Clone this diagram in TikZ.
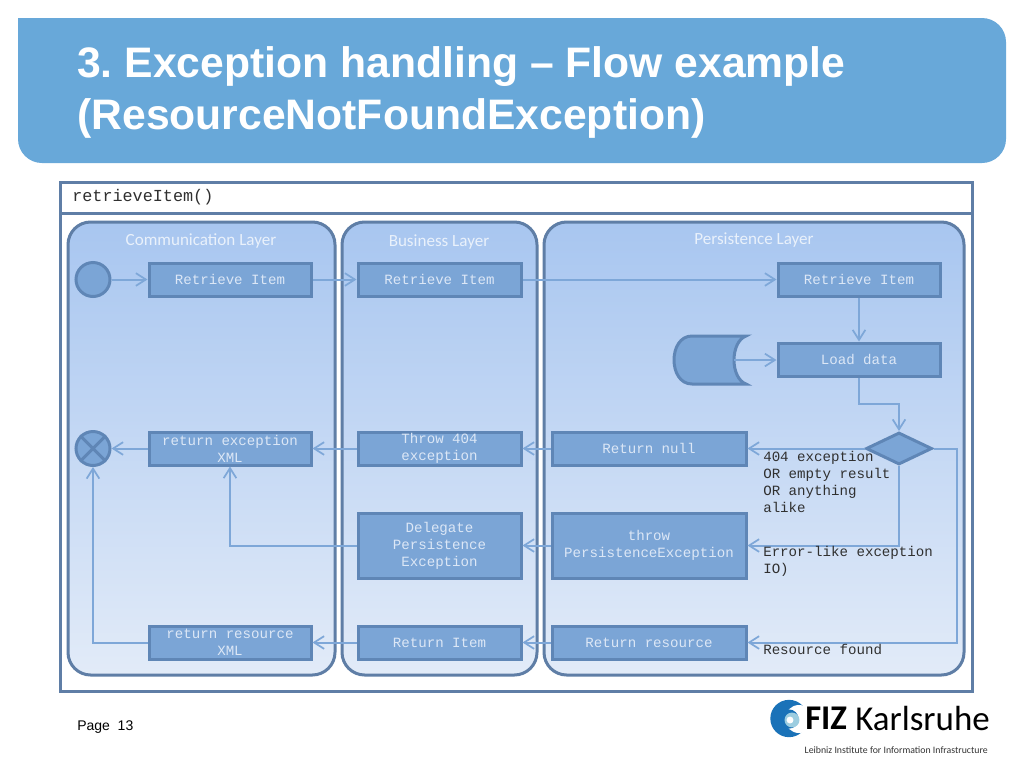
\documentclass[tikz,border=0pt]{standalone}
\usepackage{fontspec}
\setmainfont{Liberation Sans}
\setmonofont{Liberation Mono}
\newfontfamily\cali{Carlito}
\usetikzlibrary{arrows.meta,shapes.geometric}
\definecolor{hdr}{HTML}{68A8D9}
\definecolor{frm}{HTML}{5F7EA6}
\definecolor{boxf}{HTML}{7BA5D6}
\definecolor{boxd}{HTML}{5F86B6}
\definecolor{conn}{HTML}{7EA7D8}
\definecolor{paneltop}{HTML}{A8C6F0}
\definecolor{panelbot}{HTML}{E2EBF8}
\definecolor{boxtxt}{HTML}{DCE7F6}
\definecolor{lbl}{HTML}{E9F1FB}
\definecolor{txt}{HTML}{303030}
\definecolor{fizblue}{HTML}{1A72B8}
\definecolor{fizlight}{HTML}{9CCDE0}
\tikzset{
  panel/.style={draw=frm,line width=2.25pt,rounded corners=17pt,top color=paneltop,bottom color=panelbot,inner sep=0pt},
  actbox/.style={draw=boxd,line width=2.25pt,fill=boxf,text=boxtxt,inner sep=0pt,align=center,font=\ttfamily\fontsize{10.6}{12.75}\selectfont},
  ctrl/.style={circle,draw=boxd,line width=2.25pt,fill=boxf,inner sep=0pt,minimum size=25.5pt},
  decide/.style={diamond,draw=boxd,line width=2.25pt,fill=boxf,inner sep=0pt,minimum width=49.5pt,minimum height=24pt,aspect=2},
  flow/.style={draw=conn,line width=1.5pt,-{Straight Barb[length=7.5pt,width=9.5pt,line width=1.3pt]}},
  laylabel/.style={text=lbl,font=\cali\fontsize{12.8}{15}\selectfont,inner sep=0pt},
  note/.style={text=txt,align=left,anchor=north west,inner sep=0pt,font=\ttfamily\fontsize{10.6}{12.75}\selectfont},
}
\newcommand{\actnode}[6]{\node[actbox,minimum width={(#4-#2)*0.75pt},minimum height={(#5-#3)*0.75pt}] (#1) at ({(#2+#4)/2},{(#3+#5)/2}) {#6};}
\newcommand{\pnlnode}[5]{\node[panel,minimum width={(#4-#2)*0.75pt},minimum height={(#5-#3)*0.75pt}] (#1) at ({(#2+#4)/2},{(#3+#5)/2}) {};}
\begin{document}
\begin{tikzpicture}[x=0.75pt,y=-0.75pt]
\useasboundingbox (0,0) rectangle (1024,768);
\fill[white] (0,0) rectangle (1024,768);
% header: square top-left corner, the others rounded
\fill[hdr,rounded corners=18pt] (18,60) [sharp corners] -- (18,18) [rounded corners=18pt] -- (1006,18) -- (1006,163) -- (18,163) -- cycle;
\node[anchor=north west,inner sep=0pt,align=left,text=white,font=\frenchspacing\bfseries\fontsize{32}{39}\selectfont] (title) at (77,46) {3. Exception handling – Flow example\\(ResourceNotFoundException)};
% frame
\node[draw=frm,line width=2.25pt,fill=white,minimum width=684pt,minimum height=381.75pt,inner sep=0pt] (frame) at (516,436.5) {};
\draw[frm,line width=2.25pt] (60,213.5) -- (972,213.5);
\node[anchor=west,inner sep=0pt,text=txt,font=\ttfamily\fontsize{12.6}{15}\selectfont] (fname) at (72,197) {retrieveItem()};
% panels
\pnlnode{comm}{68}{222}{335}{675}
\pnlnode{biz}{342}{222}{537}{675}
\pnlnode{pers}{544}{222}{964}{675}
\node[laylabel] (commL) at (201,241) {Communication Layer};
\node[laylabel] (bizL) at (439,242) {Business Layer};
\node[laylabel] (persL) at (754,240) {Persistence Layer};
% activities
\node[ctrl] (start) at (93,279.5) {};
\actnode{r1}{149}{263}{311}{296}{Retrieve Item}
\actnode{r2}{358}{263}{521}{296}{Retrieve Item}
\actnode{r3}{778}{263}{940}{296}{Retrieve Item}
\actnode{load}{778}{343}{940}{376}{Load data}
\actnode{rnull}{552}{432}{746}{465}{Return null}
\actnode{t404}{358}{432}{521}{465}{Throw 404\\exception}
\actnode{rex}{149}{432}{311}{465}{return exception\\XML}
\actnode{deleg}{358}{513}{521}{578}{Delegate\\Persistence\\Exception}
\actnode{tpe}{552}{513}{746}{578}{throw\\PersistenceException}
\actnode{rrx}{149}{626}{311}{659}{return resource\\XML}
\actnode{ritem}{358}{626}{521}{659}{Return Item}
\actnode{rres}{552}{626}{746}{659}{Return resource}
\node[decide] (dec) at (899,448.5) {};
\node[ctrl] (stop) at (93,448.5) {};
\draw[boxd,line width=2.25pt] (stop.north west) -- (stop.south east) (stop.north east) -- (stop.south west);
% data store
\draw[boxd,line width=2.25pt,fill=boxf] (746,336) -- (692,336) .. controls (668,336) and (668,384) .. (692,384) -- (746,384) .. controls (730,378) and (730,342) .. (746,336) -- cycle;
\coordinate (store) at (734,360);
% connectors
\draw[flow] (start) -- (r1);
\draw[flow] (r1) -- (r2);
\draw[flow] (r2) -- (r3);
\draw[flow] (r3) -- (load);
\draw[flow] (store) -- (store -| load.west);
\draw[flow] (load.south) |- (899,404) -- (dec.north);
\draw[flow] (dec.west) -- (rnull.east);
\draw[flow] (rnull) -- (t404);
\draw[flow] (t404) -- (rex);
\draw[flow] (rex) -- (stop);
\draw[flow] (dec.south) |- (tpe.east);
\draw[flow] (tpe) -- (deleg);
\draw[flow] (deleg.west) -| (rex.south);
\draw[flow] (dec.east) -- (957,448.5) |- (rres.east);
\draw[flow] (rres) -- (ritem);
\draw[flow] (ritem) -- (rrx);
\draw[flow] (rrx.west) -| (stop.south);
% notes
\node[note] (n1) at (763,450.5) {404 exception\\OR empty result\\OR anything\\alike};
\node[note] (n2) at (763,545.5) {Error-like exception\\IO)};
\node[note] (n3) at (763,644) {Resource found};
% footer
\node[anchor=west,inner sep=0pt,text=black,font=\fontsize{10.5}{12}\selectfont] (page) at (77,727) {Page\ \ 13};
% logo
\fill[fizblue] (789,718.5) circle (14pt);
\fill[white] (799,719) circle (10.5pt);
\fill[fizblue] (789,719) circle (7.2pt);
\fill[fizlight] (792,720) circle (5.6pt);
\fill[white] (790,720) circle (2.6pt);
\node[anchor=west,inner sep=0pt,font=\cali\bfseries\fontsize{26}{30}\selectfont,text=black] (fiz) at (805,718) {FIZ};
\node[anchor=west,inner sep=0pt,font=\cali\fontsize{26.2}{30}\selectfont,text=black] (ka) at (855,718) {Karlsruhe};
\node[anchor=east,inner sep=0pt,font=\cali\fontsize{7.35}{9}\selectfont,text=black!80] (leib) at (988,750) {Leibniz Institute for Information Infrastructure};
\end{tikzpicture}
\end{document}
